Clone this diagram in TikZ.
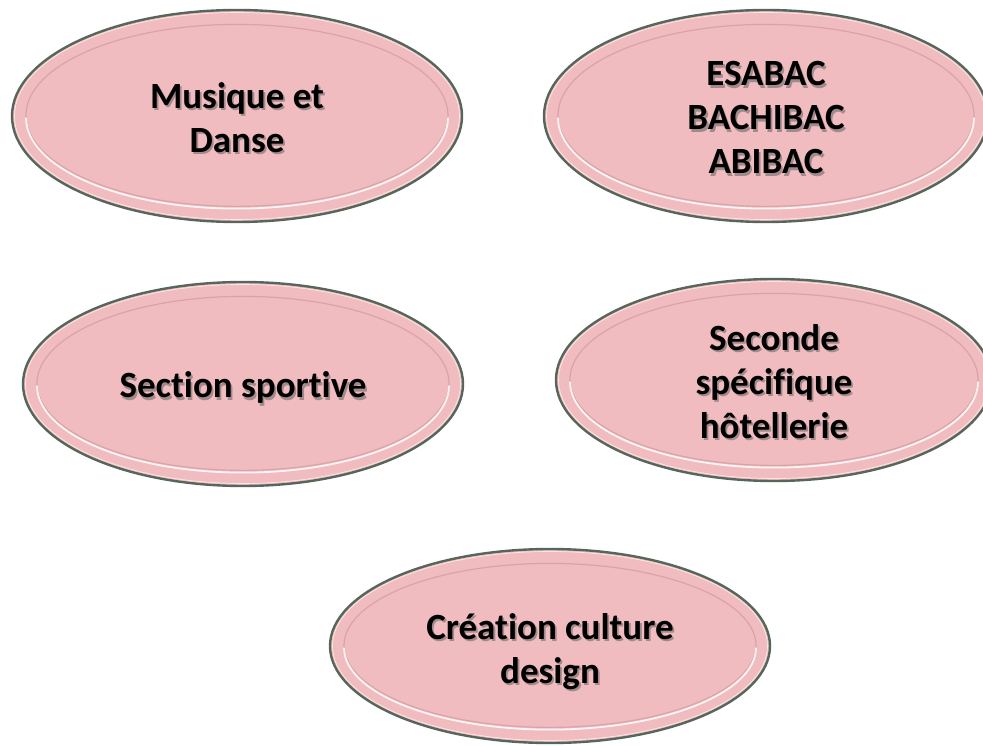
\documentclass[tikz,border=0pt]{standalone}
\usepackage{fontspec}
\setmainfont{Carlito}[Ligatures={NoCommon}, RawFeature={-liga;-clig;-calt}]
\usetikzlibrary{shapes.geometric}
\definecolor{ovalfill}{HTML}{F1BCBF}
\definecolor{ovaledge}{HTML}{55675A}
\definecolor{ringdark}{HTML}{D9A3A7}
\definecolor{shadowgray}{HTML}{A08A8C}
\tikzset{
  ovalshape/.style={ellipse, fill=ovalfill, draw=ovaledge, line width=2.4pt, inner sep=0pt},
  lbl/.style={align=center, font=\fontsize{37}{44}\selectfont\bfseries, inner sep=0pt},
  innerring/.style={draw=ringdark, line width=1.2pt},
  lightring/.style={draw=white, line width=1.8pt, opacity=0.85},
  edgelight/.style={draw=white, line width=0.8pt, opacity=0.6}
}
\newcommand\sh[1]{\makebox[0pt][l]{\raisebox{-2.2pt}{\hspace{1.8pt}\textcolor{shadowgray}{#1}}}#1}
\newcommand\ovalbox[7]{%
  \node[ovalshape, minimum width={2*#4 pt}, minimum height={2*#5 pt}] (#1) at (#2,#3) {};
  \draw[edgelight] (#1.center) ellipse[x radius={#4-2.5}, y radius={#5-2.5}];
  \draw[innerring] ([yshift=0.6pt]#1.center) ellipse[x radius={#4-14}, y radius={#5-15}];
  \draw[lightring] ([yshift=-1.6pt]#1.center) ++({#4-14},0) arc[start angle=0, end angle=-180, x radius={#4-14}, y radius={#5-15}];
  \node[lbl] (#1t) at ([yshift=#6]#1.center) {#7};
}
\begin{document}
\begin{tikzpicture}[x=1pt,y=1pt]
\useasboundingbox (0,0) rectangle (983,745);
\clip (0,0) rectangle (983,745);
\ovalbox{musique}{237}{629}{225}{106}{-3pt}{\sh{Musique et}\\\sh{Danse}}
\ovalbox{esabac}{766}{629}{222}{106}{-3pt}{\sh{ESABAC}\\\sh{BACHIBAC}\\\sh{ABIBAC}}
\ovalbox{sport}{243}{361}{220}{102}{-5pt}{\sh{Section sportive}}
\ovalbox{hotel}{774}{365}{218}{101}{-3pt}{\sh{Seconde}\\\sh{spécifique}\\\sh{hôtellerie}}
\ovalbox{design}{550}{99}{220}{97}{-7pt}{\sh{Création culture}\\\sh{design}}
\end{tikzpicture}
\end{document}
